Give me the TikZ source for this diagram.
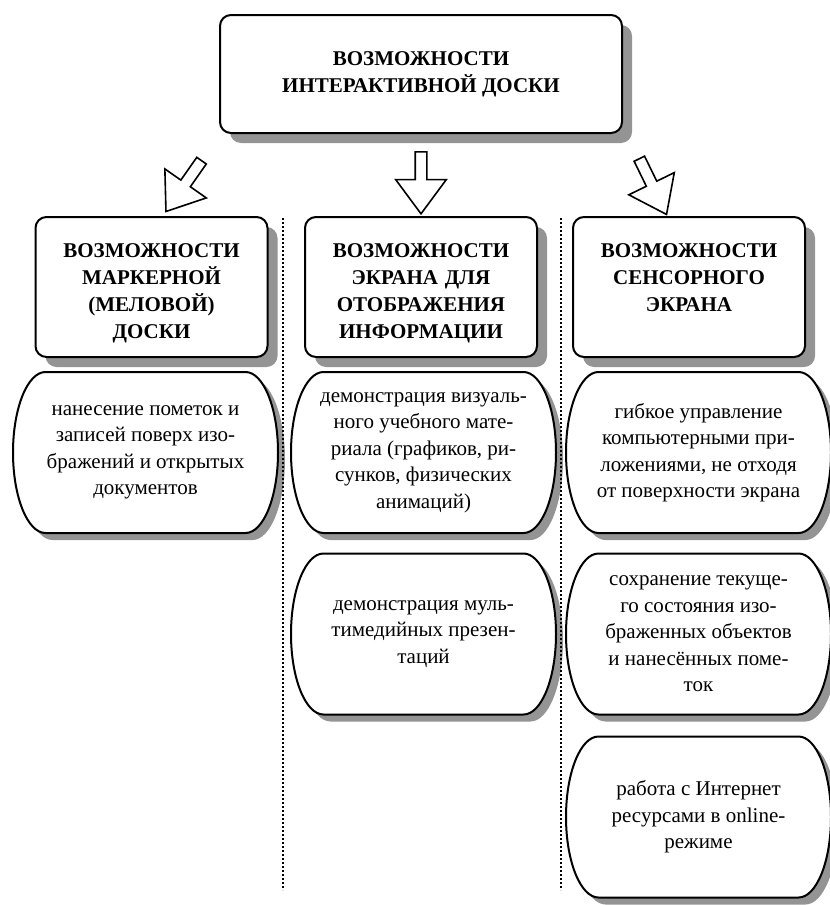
\documentclass[tikz,border=0pt]{standalone}
\usepackage{fontspec}
\setmainfont{Liberation Serif}
\usepackage{tikz}
\usetikzlibrary{positioning,calc,shapes.arrows,shadows}
\pgfdeclarelayer{background}
\pgfsetlayers{background,main}
\tikzset{
  boxshadow/.style={drop shadow={shadow xshift=10pt, shadow yshift=-10pt,
              fill=black!42, opacity=1}},
  box/.style={draw, line width=2pt, rounded corners=11pt, fill=white,
              align=center, font=\fontsize{21}{27}\selectfont\bfseries,
              boxshadow},
  titlebox/.style={box, minimum width=402pt, minimum height=118pt},
  colbox/.style={box, text width=220pt, inner xsep=6pt, inner ysep=5pt,
              text height=35pt, text depth=95pt},
  itembox/.style={inner sep=0pt, minimum width=200pt, minimum height=161pt,
              align=center, font=\fontsize{21}{26.5}\selectfont},
  pill/.style={draw, line width=2pt, fill=white,
              preaction={fill=black!42,
                transform canvas={xshift=7pt, yshift=-7pt}}},
  hollow/.style={single arrow, draw, line width=1.6pt, fill=white,
              inner sep=0pt, text height=10pt, text depth=0pt,
              minimum height=62pt, minimum width=49pt,
              single arrow head extend=19.5pt, single arrow tip angle=73,
              anchor=tail},
  divider/.style={line width=2pt, dash pattern=on 2pt off 2pt},
}
\begin{document}
\begin{tikzpicture}[x=1pt, y=-1pt]
  \useasboundingbox (0,0) rectangle (830,905);
  % top
  \node[titlebox] (top) at (421,74) {ВОЗМОЖНОСТИ\\ИНТЕРАКТИВНОЙ ДОСКИ};
  % three kinds of board
  \node[colbox] (mark) at (151.5,287) {ВОЗМОЖНОСТИ\\МАРКЕРНОЙ\\(МЕЛОВОЙ)\\ДОСКИ};
  \node[colbox] (screen) at (421,287)
    {ВОЗМОЖНОСТИ\\ЭКРАНА ДЛЯ\\ОТОБРАЖЕНИЯ\\ИНФОРМАЦИИ};
  \node[colbox] (touch) at (689,287) {ВОЗМОЖНОСТИ\\СЕНСОРНОГО\\ЭКРАНА};
  % arrows
  \node[hollow, rotate=235] (amark) at ($(top.south west)+(-17,26)$) {};
  \node[hollow, rotate=-90] (ascreen) at ($(top.south)+(0,17)$) {};
  \node[hollow, rotate=-64] (atouch) at ($(top.south east)+(16,24)$) {};
  % column dividers
  \draw[divider] (283,218) -- (283,890);
  \draw[divider] (561,218) -- (561,890);
  % marker board
  \node[itembox] (m1) at (145.5,452.5)
    {нанесение пометок и\\записей поверх изо-\\бражений и открытых\\документов};
  % display screen
  \node[itembox] (s1) at (423.5,452.5)
    {демонстрация визуаль-\\ного учебного мате-\\риала (графиков, ри-\\сунков,
     физических\\анимаций)};
  \node[itembox] (s2) at (423.5,634)
    {демонстрация муль-\\тимедийных презен-\\таций};
  % touch screen
  \node[itembox] (t1) at (698.5,452.5)
    {гибкое управление\\компьютерными при-\\ложениями, не отходя\\от
     поверхности экрана};
  \node[itembox] (t2) at (698.5,634)
    {сохранение текуще-\\го состояния изо-\\браженных объектов\\и
     нанесённых поме-\\ток};
  \node[itembox] (t3) at (698.5,817)
    {работа с Интернет\\ресурсами в online-\\режиме};
  % pill outlines behind the texts
  \begin{pgfonlayer}{background}
    \foreach \n in {m1,s1,s2,t1,t2,t3}
      \path[pill] ($(\n.center)+(-100,-80.5)$) -- ++(200,0)
        arc[start angle=-90, end angle=90, x radius=32.5, y radius=80.5]
        -- ++(-200,0)
        arc[start angle=90, end angle=270, x radius=32.5, y radius=80.5]
        -- cycle;
  \end{pgfonlayer}
\end{tikzpicture}
\end{document}
